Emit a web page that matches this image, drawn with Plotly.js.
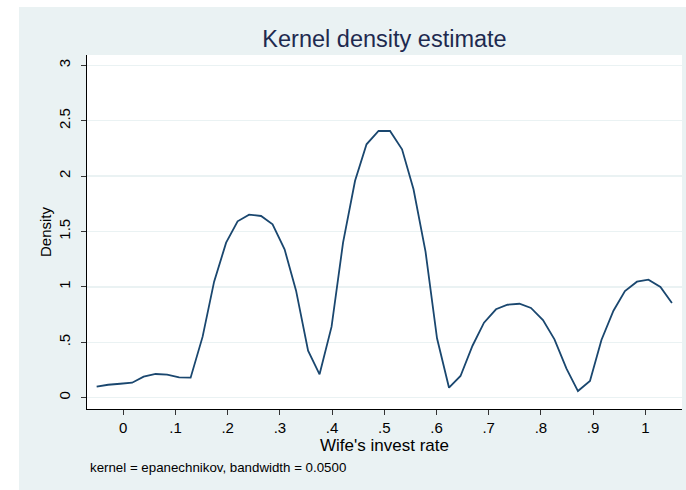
<!DOCTYPE html>
<html>
<head>
<meta charset="utf-8">
<script src="https://cdn.plot.ly/plotly-3.0.1.min.js"></script>
<style>
  html, body { margin: 0; padding: 0; background: #ffffff; width: 686px; height: 490px; overflow: hidden; }
  #chart { position: absolute; left: 19px; top: 7px; width: 667px; height: 483px; }
</style>
</head>
<body>
<div id="chart"></div>
<script>
// Density estimate evaluated at 50 points
const gridX = [-0.051, -0.029, -0.006, 0.017, 0.039, 0.062, 0.084, 0.107, 0.129, 0.152,
               0.174, 0.197, 0.219, 0.241, 0.264, 0.286, 0.309, 0.331, 0.354, 0.376,
               0.399, 0.421, 0.444, 0.466, 0.489, 0.511, 0.534, 0.556, 0.579, 0.601,
               0.624, 0.646, 0.669, 0.691, 0.714, 0.736, 0.759, 0.781, 0.804, 0.826,
               0.849, 0.871, 0.894, 0.916, 0.939, 0.961, 0.984, 1.006, 1.029, 1.051];
const density = [0.099, 0.117, 0.126, 0.135, 0.190, 0.214, 0.208, 0.184, 0.181, 0.551,
                 1.047, 1.399, 1.592, 1.652, 1.640, 1.565, 1.339, 0.966, 0.424, 0.211,
                 0.641, 1.399, 1.958, 2.287, 2.407, 2.407, 2.242, 1.881, 1.318, 0.536,
                 0.090, 0.196, 0.469, 0.677, 0.798, 0.839, 0.848, 0.810, 0.701, 0.527,
                 0.262, 0.060, 0.151, 0.521, 0.785, 0.963, 1.047, 1.065, 0.999, 0.855];
const xTickVals = [0, 0.1, 0.2, 0.3, 0.4, 0.5, 0.6, 0.7, 0.8, 0.9, 1];
const xTickText = ["0", ".1", ".2", ".3", ".4", ".5", ".6", ".7", ".8", ".9", "1"];
const yTickVals = [0, 0.5, 1, 1.5, 2, 2.5, 3];
const yTickText = ["0", ".5", "1", "1.5", "2", "2.5", "3"];

const FONT = "Liberation Sans, Arial, Helvetica, sans-serif";

const trace = {
  x: gridX,
  y: density,
  type: "scatter",
  mode: "lines",
  line: { color: "#1a476f", width: 1.8 },
  hoverinfo: "skip"
};

const layout = {
  width: 667,
  height: 483,
  margin: { l: 68, r: 4, t: 48, b: 81, pad: 0 },
  paper_bgcolor: "#eaf2f3",
  plot_bgcolor: "#ffffff",
  showlegend: false,
  font: { family: FONT, color: "#000000", size: 15 },
  title: {
    text: "Kernel density estimate",
    font: { family: FONT, size: 23.5, color: "#1e2a4f" },
    xref: "paper", x: 0.5, xanchor: "center",
    yref: "container", y: 0.934, yanchor: "middle"
  },
  xaxis: {
    range: [-0.0695, 1.0703],
    tickmode: "array", tickvals: xTickVals, ticktext: xTickText,
    ticks: "outside", ticklen: 5, tickwidth: 1, tickcolor: "#333333",
    showline: true, linecolor: "#000000", linewidth: 1,
    showgrid: false, zeroline: false,
    tickfont: { family: FONT, size: 15, color: "#000000" },
    title: { text: "Wife's invest rate", font: { family: FONT, size: 17, color: "#000000" }, standoff: 2 },
    automargin: false, fixedrange: true
  },
  yaxis: {
    range: [-0.102, 3.093],
    tickmode: "array", tickvals: yTickVals, ticktext: yTickText,
    tickangle: -90,
    ticks: "outside", ticklen: 5, tickwidth: 1, tickcolor: "#333333",
    ticklabelstandoff: 5,
    showline: true, linecolor: "#000000", linewidth: 1,
    showgrid: true, gridcolor: "#eaf2f3", gridwidth: 1.5,
    zeroline: false,
    tickfont: { family: FONT, size: 15, color: "#000000" },
    title: { text: "Density", font: { family: FONT, size: 15, color: "#000000" }, standoff: 0 },
    automargin: false, fixedrange: true
  },
  annotations: [{
    text: "kernel = epanechnikov, bandwidth = 0.0500",
    xref: "paper", yref: "paper",
    x: 0.002, y: -0.164, xanchor: "left", yanchor: "middle",
    showarrow: false,
    font: { family: FONT, size: 13.3, color: "#000000" }
  }]
};

Plotly.newPlot("chart", [trace], layout, { staticPlot: true, displayModeBar: false });
</script>
</body>
</html>
